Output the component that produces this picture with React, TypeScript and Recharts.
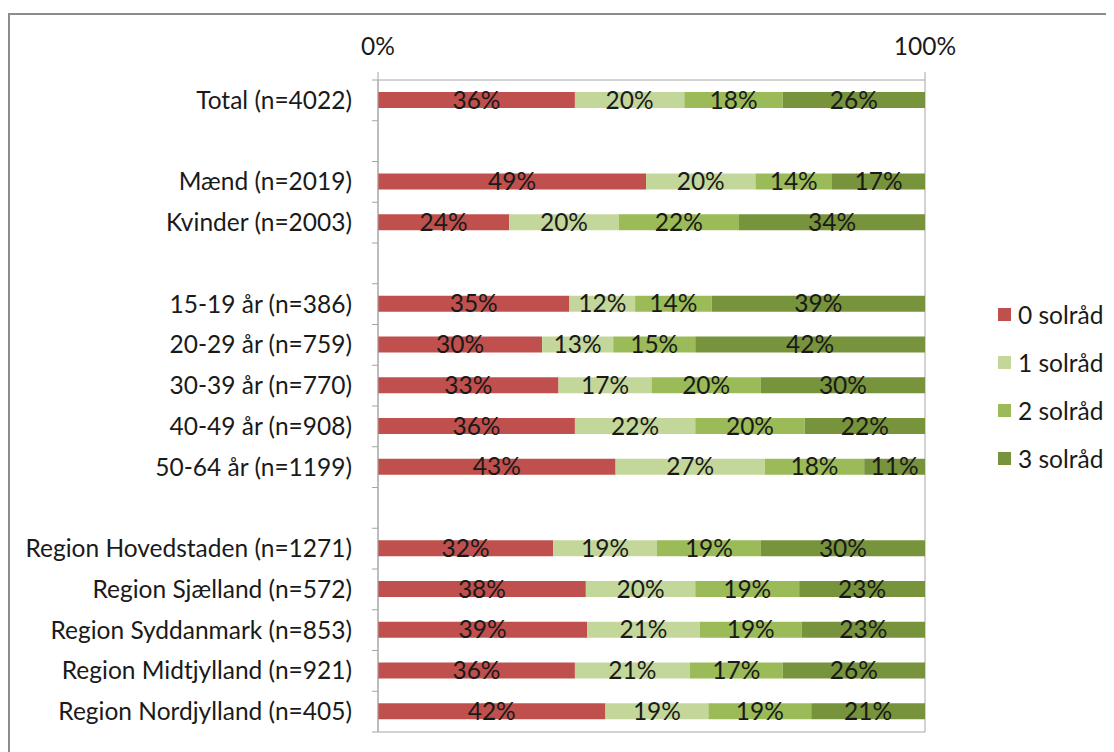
import React from 'react';
import { BarChart, Bar, XAxis, YAxis, Legend, LabelList, ReferenceArea } from 'recharts';

const categories = [
  'Total (n=4022)',
  ' ',
  'Mænd (n=2019)',
  'Kvinder (n=2003)',
  '  ',
  '15-19 år (n=386)',
  '20-29 år (n=759)',
  '30-39 år (n=770)',
  '40-49 år (n=908)',
  '50-64 år (n=1199)',
  '   ',
  'Region Hovedstaden (n=1271)',
  'Region Sjælland (n=572)',
  'Region Syddanmark (n=853)',
  'Region Midtjylland (n=921)',
  'Region Nordjylland (n=405)',
];

const sol0 = [36, null, 49, 24, null, 35, 30, 33, 36, 43, null, 32, 38, 39, 36, 42];
const sol1 = [20, null, 20, 20, null, 12, 13, 17, 22, 27, null, 19, 20, 21, 21, 19];
const sol2 = [18, null, 14, 22, null, 14, 15, 20, 20, 18, null, 19, 19, 19, 17, 19];
const sol3 = [26, null, 17, 34, null, 39, 42, 30, 22, 11, null, 30, 23, 23, 26, 21];

const seriesNames = ['0 solråd', '1 solråd', '2 solråd', '3 solråd'];
const xTicks = [0, 1];

const colors = ['#C0504D', '#C4D79B', '#9BBB59', '#77933C'];
const FONT = 'Lato, "Open Sans", sans-serif';
const FS = 24.5;
const AXIS_X = 368;
const PLOT_H = 652;
const GRAY = '#a6a6a6';
const LEGEND_W = 120;

const data = categories.map((name, i) => ({
  name,
  s0: sol0[i],
  s1: sol1[i],
  s2: sol2[i],
  s3: sol3[i],
}));

const pct = (v: any) => (v == null ? '' : `${v}%`);

const CategoryTick = (props: any) => {
  const { y, payload, index } = props;
  const half = PLOT_H / categories.length / 2;
  return (
    <g>
      <line x1={AXIS_X - 6} x2={AXIS_X} y1={y - half} y2={y - half} stroke={GRAY} />
      {index === categories.length - 1 && (
        <line x1={AXIS_X - 6} x2={AXIS_X} y1={y + half} y2={y + half} stroke={GRAY} />
      )}
      <text x={AXIS_X - 26} y={y} dy="0.35em" textAnchor="end" fontSize={FS} fontFamily={FONT} fill="#1a1a1a">
        {payload.value.trim()}
      </text>
    </g>
  );
};

const renderLegend = (props: any) => {
  const { payload } = props;
  return (
    <div style={{ fontFamily: FONT, fontSize: FS, color: '#1a1a1a' }}>
      {payload.map((p: any) => (
        <div key={p.value} style={{ height: 48, display: 'flex', alignItems: 'center' }}>
          <span style={{ width: 13, height: 13, background: p.color, display: 'inline-block', marginRight: 7 }} />
          <span>{p.value}</span>
        </div>
      ))}
    </div>
  );
};

export default function App() {
  return (
    <div
      style={{
        position: 'relative',
        top: 5,
        width: 1100,
        height: 760,
        border: '2px solid #8c8c8c',
        boxSizing: 'border-box',
        background: '#fff',
      }}
    >
      <BarChart
        width={1096}
        height={740}
        data={data}
        layout="vertical"
        stackOffset="expand"
        barSize={16}
        margin={{ top: 0, right: 181 - LEGEND_W, left: 0, bottom: 23 }}
      >
        <XAxis
          type="number"
          orientation="top"
          domain={[0, 1]}
          ticks={xTicks}
          tickFormatter={(v) => `${Math.round(v * 100)}%`}
          height={65}
          axisLine={false}
          tickLine={{ stroke: GRAY }}
          tickSize={8}
          tickMargin={17}
          tick={{ fontSize: FS, fontFamily: FONT, fill: '#1a1a1a' }}
        />
        <YAxis
          type="category"
          dataKey="name"
          width={368}
          interval={0}
          axisLine={{ stroke: GRAY }}
          tickLine={false}
          tick={<CategoryTick />}
        />
        <ReferenceArea x1={0} x2={1} fill="none" stroke={GRAY} />
        <Legend
          layout="vertical"
          verticalAlign="top"
          align="right"
          wrapperStyle={{ left: 988, top: 275, width: LEGEND_W }}
          content={renderLegend}
        />
        {['s0', 's1', 's2', 's3'].map((k, i) => (
          <Bar key={k} dataKey={k} name={seriesNames[i]} stackId="a" fill={colors[i]} isAnimationActive={false}>
            <LabelList
              dataKey={k}
              position="center"
              formatter={pct}
              fill="#1a1a1a"
              fontSize={FS}
              fontFamily={FONT}
            />
          </Bar>
        ))}
      </BarChart>
    </div>
  );
}
